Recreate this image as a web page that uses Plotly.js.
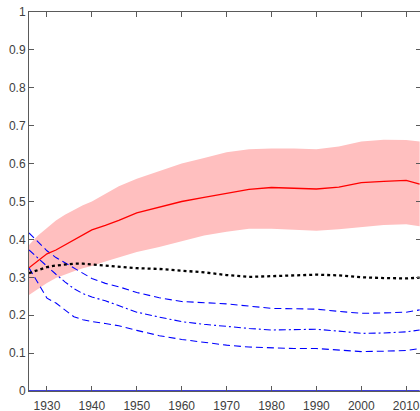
<!DOCTYPE html>
<html>
<head>
<meta charset="utf-8">
<script src="https://cdn.plot.ly/plotly-3.0.1.min.js"></script>
<style>
html,body{margin:0;padding:0;overflow:hidden;background:#fff;}
#chart{width:424px;height:411px;}
</style>
</head>
<body>
<div id="chart"></div>
<script>
// Years (x values)
const years = [1926,1928,1930,1932,1934,1936,1938,1940,1943,1946,1950,1955,1960,1965,1970,1975,1980,1985,1990,1995,2000,2005,2010,2013];

// Mean (red line)
const meanVals = [0.325,0.343,0.362,0.372,0.385,0.397,0.41,0.425,0.437,0.45,0.47,0.485,0.50,0.511,0.522,0.532,0.537,0.535,0.533,0.538,0.550,0.553,0.556,0.546];
// Band upper / lower (pink)
const bandUpper = [0.385,0.41,0.43,0.45,0.465,0.478,0.49,0.50,0.52,0.54,0.56,0.58,0.60,0.615,0.63,0.638,0.640,0.640,0.638,0.645,0.658,0.663,0.662,0.658];
const bandLower = [0.253,0.27,0.285,0.298,0.308,0.316,0.324,0.330,0.342,0.352,0.367,0.38,0.395,0.41,0.42,0.428,0.428,0.425,0.423,0.427,0.433,0.438,0.440,0.435];
// Black dotted
const blackVals = [0.311,0.320,0.327,0.331,0.334,0.336,0.336,0.334,0.331,0.328,0.324,0.322,0.318,0.313,0.306,0.301,0.303,0.306,0.307,0.305,0.300,0.298,0.297,0.299];
// Blue dashed upper
const blueUpper = [0.417,0.393,0.370,0.352,0.338,0.323,0.310,0.297,0.284,0.275,0.260,0.246,0.236,0.232,0.230,0.224,0.218,0.217,0.216,0.210,0.205,0.206,0.208,0.214];
// Blue dash-dot middle
const blueMid = [0.372,0.350,0.330,0.308,0.288,0.270,0.257,0.248,0.238,0.226,0.208,0.195,0.183,0.176,0.170,0.165,0.161,0.162,0.163,0.158,0.152,0.153,0.156,0.161];
// Blue dashed lower
const blueLower = [0.325,0.285,0.245,0.232,0.215,0.196,0.188,0.183,0.178,0.172,0.160,0.146,0.136,0.128,0.121,0.116,0.113,0.112,0.112,0.108,0.104,0.105,0.107,0.112];
// Zero line
const zeroVals = years.map(() => 0);

const yTicks = [0,0.1,0.2,0.3,0.4,0.5,0.6,0.7,0.8,0.9,1];
const yTickText = ['0','0.1','0.2','0.3','0.4','0.5','0.6','0.7','0.8','0.9','1'];
const xTicks = [1930,1940,1950,1960,1970,1980,1990,2000,2010];

const traces = [
  {x: years, y: bandLower, mode:'lines', line:{width:0, color:'rgba(0,0,0,0)'}, showlegend:false, hoverinfo:'skip'},
  {x: years, y: bandUpper, mode:'lines', fill:'tonexty', fillcolor:'#ffbfbf', line:{width:0, color:'rgba(0,0,0,0)'}, showlegend:false, hoverinfo:'skip'},
  {x: years, y: zeroVals, mode:'lines', line:{color:'#0000cc', width:1.5}, showlegend:false},
  {x: years, y: blueUpper, mode:'lines', line:{color:'#0000ff', width:1.1, dash:'7px,4px'}, showlegend:false},
  {x: years, y: blueMid, mode:'lines', line:{color:'#0000ff', width:1.1, dash:'7px,3px,2px,3px'}, showlegend:false},
  {x: years, y: blueLower, mode:'lines', line:{color:'#0000ff', width:1.1, dash:'7px,4px'}, showlegend:false},
  {x: years, y: blackVals, mode:'lines', line:{color:'#000000', width:2.3, dash:'dot'}, showlegend:false},
  {x: years, y: meanVals, mode:'lines', line:{color:'#ff0000', width:1.3}, showlegend:false}
];

const axisCommon = {
  showgrid:false, zeroline:false, showline:true, linecolor:'#5a5a5a', linewidth:1,
  ticks:'inside', ticklen:5, tickcolor:'#5a5a5a', tickwidth:1, mirror:'ticks',
  tickfont:{family:'Liberation Sans, Arial, sans-serif', size:12, color:'#404040'}
};

const layout = {
  width:424, height:411,
  margin:{l:29, r:3, t:12, b:20, pad:0},
  paper_bgcolor:'#ffffff', plot_bgcolor:'#ffffff',
  showlegend:false,
  xaxis: Object.assign({}, axisCommon, {range:[1926,2013.3], tickvals:xTicks, ticktext:xTicks.map(String), ticklabelstandoff:4}),
  yaxis: Object.assign({}, axisCommon, {range:[0,1], tickvals:yTicks, ticktext:yTickText})
};

Plotly.newPlot('chart', traces, layout, {staticPlot:true, displayModeBar:false});
</script>
</body>
</html>
